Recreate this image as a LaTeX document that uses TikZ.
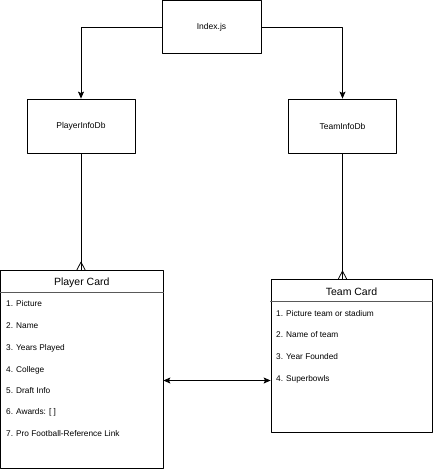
\documentclass[tikz,border=0pt]{standalone}
\usepackage{fontspec}
\setmainfont{Liberation Sans}
\usetikzlibrary{arrows.meta}
\tikzset{
	box/.style={draw,line width=0.8pt,minimum width=108pt,minimum height=54pt,inner sep=0pt,font=\fontsize{8.5}{10}\selectfont},
	card/.style={draw,line width=0.8pt,inner sep=0pt},
	item/.style={anchor=west,inner sep=0pt,font=\fontsize{8.3}{10}\selectfont},
	cardtitle/.style={inner sep=0pt,font=\fontsize{10.5}{12}\selectfont}
}
\begin{document}
\begin{tikzpicture}[line cap=round,line join=round,>={Stealth[length=7pt,width=6pt,inset=1.5pt]},x=1pt,y=-1pt]
			\useasboundingbox (0,0) rectangle (433,472);
			\node[box,minimum width=99pt,minimum height=53pt] (index) at (211.5,27) {Index.js};
			\node[box] (playerdb) at (81,126) {PlayerInfoDb};
			\node[box] (teamdb) at (342.5,126) {TeamInfoDb};
			\node[card,minimum width=162.5pt,minimum height=198pt] (playercard) at (81.75,369) {};
			\node[card,minimum width=161pt,minimum height=153pt] (teamcard) at (351.5,355.5) {};
			\draw [line width=0.8pt,gray!70!black] ([yshift=-23pt]playercard.north west)-- ([yshift=-23pt]playercard.north east);
			\draw [line width=0.8pt,gray!70!black] ([yshift=-23pt]teamcard.north west)-- ([yshift=-23pt]teamcard.north east);
			\node[cardtitle] (playertitle) at (81.75,283) {Player Card};
			\node[cardtitle] (teamtitle) at (351.5,292) {Team Card};
			\node[item] (p1) at (6,304) {1. Picture};
			\node[item] (p2) at (6,326) {2. Name};
			\node[item] (p3) at (6,348) {3. Years Played};
			\node[item] (p4) at (6,370) {4. College};
			\node[item] (p5) at (6,391) {5. Draft Info};
			\node[item] (p6) at (6,412) {6. Awards: [ ]};
			\node[item] (p7) at (6,434) {7. Pro Football-Reference Link};
			\node[item] (t1) at (276,314) {1. Picture team or stadium};
			\node[item] (t2) at (276,335) {2. Name of team};
			\node[item] (t3) at (276,357) {3. Year Founded};
			\node[item] (t4) at (276,379) {4. Superbowls};
			\coordinate (link) at (0,380.5);
			\draw [->,line width=0.8pt] (index.west) -| (playerdb.north);
			\draw [->,line width=0.8pt] (index.east) -| (teamdb.north);
			\draw [line width=0.8pt] (playerdb.south) -- (playerdb.south |- playercard.north);
			\draw [line width=0.8pt] (teamdb.south) -- (teamdb.south |- teamcard.north);
			\coordinate (pfoot) at (playerdb.south |- playercard.north);
			\coordinate (tfoot) at (teamdb.south |- teamcard.north);
			\draw [line width=0.8pt] ([xshift=-4pt]pfoot) -- ([yshift=7.5pt]pfoot) -- ([xshift=4pt]pfoot);
			\draw [line width=0.8pt] ([xshift=-4pt]tfoot) -- ([yshift=7.5pt]tfoot) -- ([xshift=4pt]tfoot);
			\draw [<->,line width=0.8pt] (playercard.east |- link) -- (teamcard.west |- link);
		\end{tikzpicture}
\end{document}
